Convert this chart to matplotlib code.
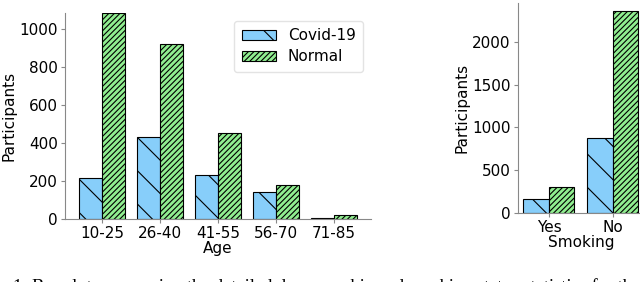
import numpy as np
import matplotlib
matplotlib.use("Agg")
import matplotlib.pyplot as plt

# age groups
age_groups = ["10-25", "26-40", "41-55", "56-70", "71-85"]
age_covid = [214, 430, 232, 142, 4]
age_normal = [1085, 920, 453, 181, 20]

# smoking status
smoke_groups = ["Yes", "No"]
smoke_covid = [157, 870]
smoke_normal = [300, 2363]

covid_color = "#87cefa"
normal_color = "#90ee90"
spine_color = "#888888"

plt.rcParams.update({"font.size": 11, "font.family": "DejaVu Sans",
                     "hatch.linewidth": 0.8})

fig = plt.figure(figsize=(6.4, 2.82), dpi=100)


def draw(ax, groups, covid, normal):
    x = np.arange(len(groups))
    w = 0.4
    ax.bar(x - w / 2, covid, w, color=covid_color, edgecolor="black",
           linewidth=0.8, hatch="\\", label="Covid-19")
    ax.bar(x + w / 2, normal, w, color=normal_color, edgecolor="black",
           linewidth=0.8, hatch="//////", label="Normal")
    ax.set_xticks(x)
    ax.set_xticklabels(groups)
    ax.set_ylabel("Participants", labelpad=2)
    for s in ["top", "right"]:
        ax.spines[s].set_visible(False)
    for s in ["left", "bottom"]:
        ax.spines[s].set_color(spine_color)
    ax.tick_params(colors="black", length=3, pad=2)
    ax.tick_params(axis="both", color=spine_color)


# left: age
ax1 = fig.add_axes([0.1016, 0.2234, 0.478, 0.7305])
draw(ax1, age_groups, age_covid, age_normal)
ax1.set_ylim(0, 1085)
ax1.set_yticks([0, 200, 400, 600, 800, 1000])
ax1.set_xlabel("Age", labelpad=0)
ax1.legend(loc="upper right", handlelength=2.2, borderpad=0.5,
           labelspacing=0.4, framealpha=0.8, edgecolor="#dddddd")

# right: smoking (cropped at the figure edge)
ax2 = fig.add_axes([0.809, 0.2457, 0.197, 0.742])
draw(ax2, smoke_groups, smoke_covid, smoke_normal)
ax2.set_ylim(0, 2450)
ax2.set_yticks([0, 500, 1000, 1500, 2000])
ax2.set_xlabel("Smoking", labelpad=0)

# caption (cut off at the bottom, as in the source figure)
fig.text(13 / 640, 1 - 278.5 / 282,
         "1: Bar plots comparing the detailed demographic and smoking status statistics for the",
         family="Liberation Serif", fontsize=13.2, va="top", ha="left")

fig.savefig("out.png", dpi=100)
